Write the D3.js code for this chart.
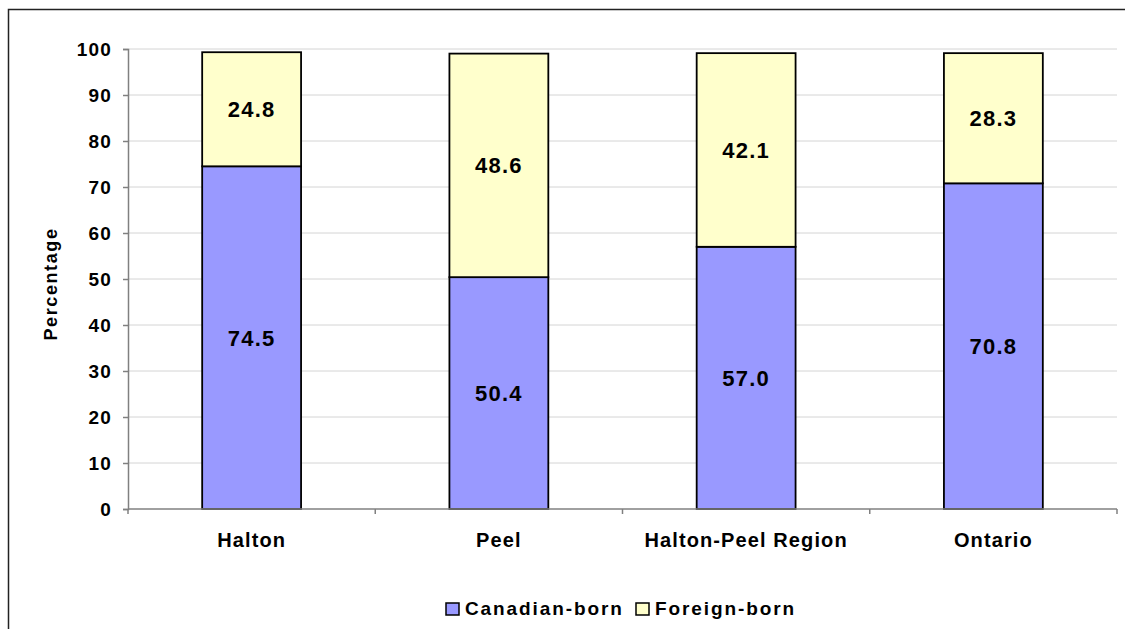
<!DOCTYPE html>
<html>
<head>
<meta charset="utf-8">
<script src="https://cdn.jsdelivr.net/npm/d3@7"></script>
<style>
  body { margin: 0; background: #fff; }
  svg text { font-family: "Liberation Sans", Arial, sans-serif; font-weight: bold; fill: #000; }
</style>
</head>
<body>
<svg width="1125" height="629"></svg>
<script>
// values
const regions = ['Halton', 'Peel', 'Halton-Peel Region', 'Ontario'];
const canadianBorn = [74.5, 50.4, 57.0, 70.8];
const foreignBorn = [24.8, 48.6, 42.1, 28.3];
const seriesNames = ['Canadian-born', 'Foreign-born'];
const seriesColors = ['#9999ff', '#ffffcc'];
const yTicks = [0, 10, 20, 30, 40, 50, 60, 70, 80, 90, 100];

// plot box
const PL = 128, PR = 1117, PT = 49, PB = 509;

function main(){
    let svg = d3.select('svg');

    // chart frame (runs off the right and bottom of the picture)
    svg.append('rect').attr('x', 8.5).attr('y', 9.5)
       .attr('width', 1200).attr('height', 700)
       .attr('fill', 'none').attr('stroke', '#222').attr('stroke-width', 1.5);

    let x = d3.scaleBand().domain(regions).range([PL, PR]);
    let y = d3.scaleLinear().domain([0, 100]).range([PB, PT]);

    // gridlines
    svg.append('g').selectAll('line').data(yTicks.filter(d => d > 0)).enter()
       .append('line')
       .attr('x1', PL).attr('x2', PR)
       .attr('y1', d => y(d)).attr('y2', d => y(d))
       .attr('stroke', '#d4d4d4').attr('stroke-width', 1);

    // stacked bars
    let rows = regions.map((r, i) => ({region: r, a: canadianBorn[i], b: foreignBorn[i]}));
    let stack = d3.stack().keys(['a', 'b'])(rows);
    let bw = x.bandwidth() * 0.4;

    let layers = svg.append('g').selectAll('g').data(stack).enter()
        .append('g').attr('fill', (d, i) => seriesColors[i]);
    layers.selectAll('rect').data(d => d).enter().append('rect')
        .attr('x', d => x(d.data.region) + (x.bandwidth() - bw) / 2)
        .attr('width', bw)
        .attr('y', d => y(d[1]))
        .attr('height', d => y(d[0]) - y(d[1]))
        .attr('stroke', '#000').attr('stroke-width', 1.8);

    // value labels
    layers.selectAll('text').data(d => d).enter().append('text')
        .attr('x', d => x(d.data.region) + x.bandwidth() / 2)
        .attr('y', d => y((d[0] + d[1]) / 2) + 8)
        .attr('text-anchor', 'middle').attr('font-size', 22)
        .attr('letter-spacing', 1.2)
        .text(d => (d[1] - d[0]).toFixed(1));

    // y axis
    let yAxis = d3.axisLeft(y).tickValues(yTicks).tickSize(5).tickPadding(11);
    let gy = svg.append('g').attr('transform', `translate(${PL},0)`).call(yAxis);
    gy.select('.domain').attr('stroke', '#808080').attr('stroke-width', 1.5);
    gy.selectAll('.tick line').attr('stroke', '#808080').attr('stroke-width', 1.5);
    gy.selectAll('.tick text').attr('font-size', 19).attr('letter-spacing', 1.2)
      .attr('dy', '0.36em').attr('font-family', null);

    // x axis: ticks sit between the categories
    let xEdges = d3.range(regions.length + 1).map(i => PL + i * x.step());
    let gx = svg.append('g');
    gx.append('line').attr('x1', PL).attr('x2', PR)
      .attr('y1', PB).attr('y2', PB)
      .attr('stroke', '#808080').attr('stroke-width', 1.5);
    gx.selectAll('line.tk').data(xEdges).enter().append('line').attr('class', 'tk')
      .attr('x1', d => d).attr('x2', d => d)
      .attr('y1', PB).attr('y2', PB + 5)
      .attr('stroke', '#808080').attr('stroke-width', 1.5);
    gx.selectAll('text').data(regions).enter().append('text')
      .attr('x', d => x(d) + x.bandwidth() / 2).attr('y', 547)
      .attr('text-anchor', 'middle').attr('font-size', 20)
      .attr('letter-spacing', 1.1)
      .text(d => d);

    // y title
    svg.append('text')
       .attr('transform', `translate(57,${(PT + PB) / 2 + 5}) rotate(-90)`)
       .attr('text-anchor', 'middle').attr('font-size', 18)
       .attr('letter-spacing', 1.6)
       .text('Percentage');

    // legend
    let legend = svg.append('g');
    let lx = [446, 636];
    seriesNames.forEach((name, i) => {
        legend.append('rect').attr('x', lx[i]).attr('y', 603)
              .attr('width', 13).attr('height', 12)
              .attr('fill', seriesColors[i]).attr('stroke', '#000').attr('stroke-width', 1.5);
        legend.append('text').attr('x', lx[i] + 19).attr('y', 615)
              .attr('font-size', 19).attr('letter-spacing', 1.9)
              .text(name);
    });
}

main();
</script>
</body>
</html>
